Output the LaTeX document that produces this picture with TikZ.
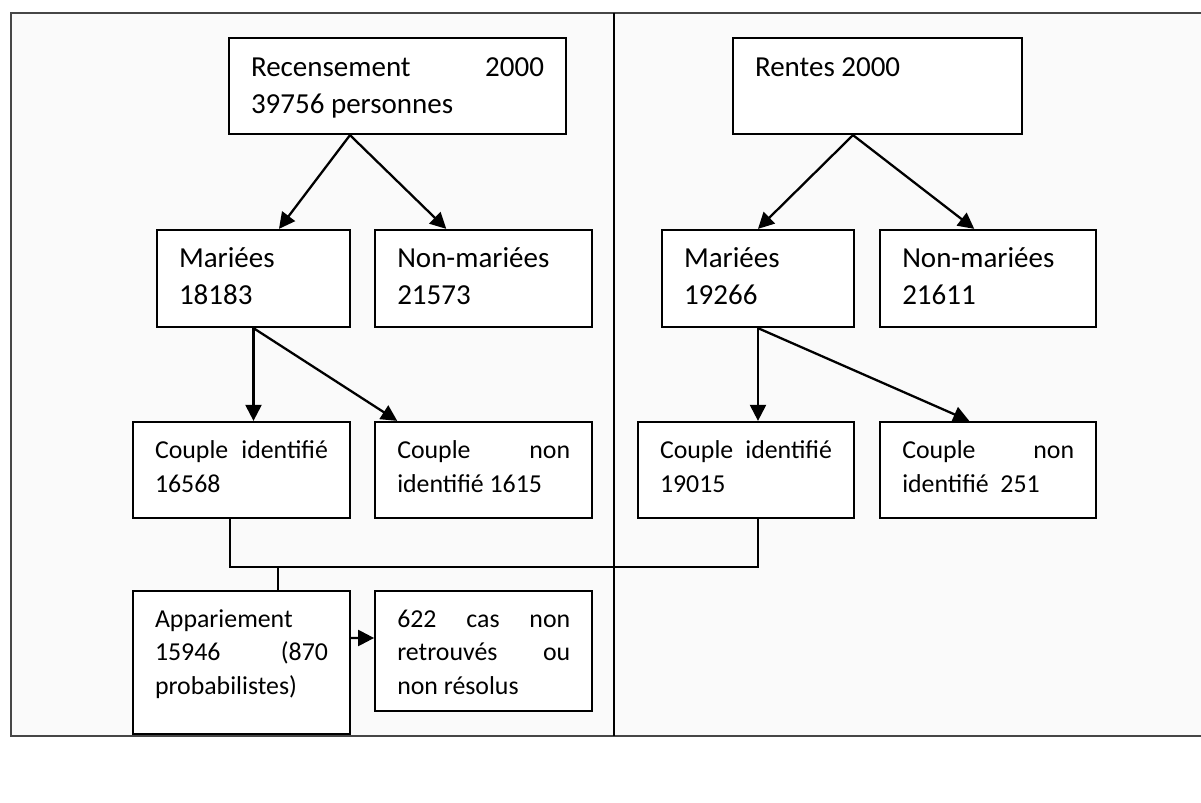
\documentclass[tikz,border=0pt]{standalone}
\usepackage{fontspec}
\setmainfont{Carlito}
\usepackage{tikz}
\usetikzlibrary{arrows.meta,positioning,calc}
\usepackage{xcolor}
\definecolor{cFond}{RGB}{250,250,250}
\definecolor{cCadre}{RGB}{70,70,70}
\newcommand{\grand}{\fontsize{16.5}{20.8}\selectfont}
\newcommand{\moyen}{\fontsize{14.7}{19.2}\selectfont}
% box text: width, height, first baseline, text
\newcommand{\boite}[4]{\parbox[c][#2][t]{#1}{\rule{0pt}{#3}#4}}
\tikzset{
  cadre/.style={rectangle,draw=black,fill=white,line width=1.3pt,
                inner xsep=0.44cm,inner ysep=0pt},
  lien/.style={line width=1.3pt,color=black},
  fleche/.style={-{Triangle[length=0.32cm,width=0.32cm]},line width=1.3pt,color=black}
}
\begin{document}
\begin{tikzpicture}[x=0.02cm,y=-0.02cm]
  \useasboundingbox (0,0) rectangle (1201,803);
  % frame and divider
  \fill[cFond] (11,13) rectangle (1201,736);
  \draw[cCadre,line width=1.4pt] (1201,13) -- (11,13) -- (11,736) -- (1201,736);
  \draw[lien] (614,13) -- (614,736);

  % sources
  \node[cadre] (rec) at (397.5,86)
      {\boite{5.86cm}{1.92cm}{0.78cm}{\grand Recensement\hfill 2000\\39756 personnes}};
  \node[cadre] (ren) at (877.5,86)
      {\boite{4.9cm}{1.92cm}{0.78cm}{\grand Rentes 2000}};

  % married / not married
  \node[cadre] (marL) at (253.5,278.5)
      {\boite{2.98cm}{1.94cm}{0.76cm}{\grand Mariées\\18183}};
  \node[cadre,right=0.46cm of marL] (nonL)
      {\boite{3.46cm}{1.94cm}{0.76cm}{\grand Non-mariées\\21573}};
  \node[cadre] (marR) at (758,278.5)
      {\boite{2.96cm}{1.94cm}{0.76cm}{\grand Mariées\\19266}};
  \node[cadre,right=0.48cm of marR] (nonR)
      {\boite{3.44cm}{1.94cm}{0.76cm}{\grand Non-mariées\\21611}};

  % couples
  \node[cadre] (cidL) at (241.5,470)
      {\boite{3.46cm}{1.92cm}{0.74cm}{\moyen Couple\hfill identifié\\16568}};
  \node[cadre,right=0.46cm of cidL] (cnL)
      {\boite{3.46cm}{1.92cm}{0.74cm}{\moyen Couple\hfill non\\identifié 1615}};
  \node[cadre] (cidR) at (746,470)
      {\boite{3.44cm}{1.92cm}{0.74cm}{\moyen Couple\hfill identifié\\19015}};
  \node[cadre,right=0.48cm of cidR] (cnR)
      {\boite{3.44cm}{1.92cm}{0.74cm}{\moyen Couple\hfill non\\identifié\ \ 251}};

  % matching
  \node[cadre] (app) at (241.5,662.5)
      {\boite{3.46cm}{2.86cm}{0.72cm}{\moyen Appariement\\15946\hfill (870\\probabilistes)}};
  \node[cadre,right=0.46cm of app.north east,anchor=north west] (cas)
      {\boite{3.46cm}{2.4cm}{0.72cm}{\moyen 622\hfill cas\hfill non\\retrouvés\hfill ou\\non résolus}};

  \draw[fleche] ($(rec.south)+(-47.5,0)$) -- ($(marL.north)+(25.5,0)$);
  \draw[fleche] ($(rec.south)+(-47.5,0)$) -- ($(nonL.north)+(-37.5,0)$);
  \draw[fleche] ($(ren.south)+(-24.5,0)$) -- (marR.north);
  \draw[fleche] ($(ren.south)+(-24.5,0)$) -- ($(nonR.north)+(-14,0)$);

  \draw[fleche] (marL.south) -- (marL.south |- cidL.north);
  \draw[fleche] (marL.south) -- ($(cnL.north)+(-86.5,0)$);
  \draw[fleche] (marR.south) -- (marR.south |- cidR.north);
  \draw[fleche] (marR.south) -- ($(cnR.north)+(-19,0)$);

  \coordinate (jonction) at (278,567);
  \draw[lien] ($(cidL.south)+(-11.5,0)$) |- (jonction) -| ($(cidR.south)+(12,0)$);
  \draw[lien] (jonction) -- (jonction |- app.north);
  \draw[fleche] ($(app.east)+(0,-24.5)$) -- ($(cas.west)+(0,-13)$);
\end{tikzpicture}
\end{document}
